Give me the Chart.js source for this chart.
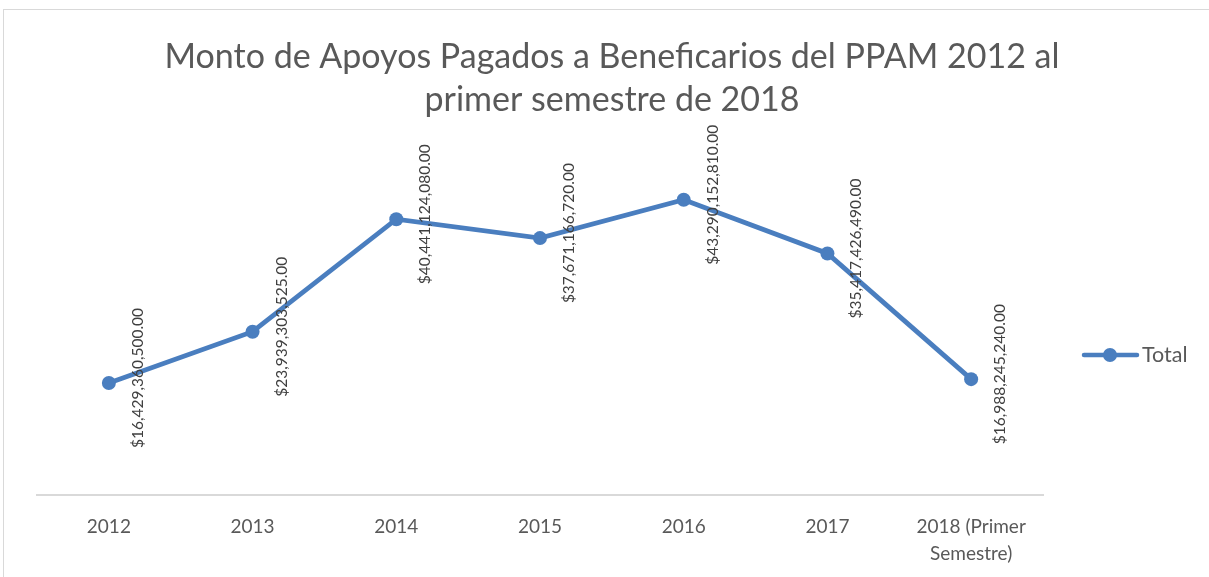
<!DOCTYPE html>
<html><head><meta charset="utf-8">
<script src="https://cdn.jsdelivr.net/npm/chart.js@4/dist/chart.umd.min.js"></script>
<style>html,body{margin:0;padding:0;background:#fff}#wrap{width:1209px;height:577px}</style>
</head><body><div id="wrap"><canvas id="c" width="1209" height="577"></canvas></div>
<script>
const categories = ['2012','2013','2014','2015','2016','2017',['2018 (Primer','Semestre)']];
const totals = [16429360500, 23939303525, 40441124080, 37671166720, 43290152810, 35417426490, 16988245240];
const seriesName = 'Total';
const titleLines = ['Monto de Apoyos Pagados a Beneficarios del PPAM 2012 al','primer semestre de 2018'];

const FONT = 'Lato, "Open Sans", sans-serif';
const BLUE = '#4a7ebf';

function money(v){
  return '$' + v.toLocaleString('en-US',{minimumFractionDigits:2,maximumFractionDigits:2});
}

const frame = {
  id:'frame',
  beforeDraw(chart){
    const ctx = chart.ctx;
    ctx.save();
    ctx.fillStyle='#fff';ctx.fillRect(0,0,chart.width,chart.height);
    ctx.strokeStyle='#d9d9d9';ctx.lineWidth=1;
    ctx.strokeRect(3.5,9.5,1400,800);
    ctx.fillStyle='#595959';ctx.font='34px '+FONT;ctx.textAlign='center';ctx.textBaseline='middle';
    ctx.fillText(titleLines[0],612,57);
    ctx.fillText(titleLines[1],612,100);
    ctx.restore();
  }
};
const labels = {
  id:'labels',
  afterDatasetsDraw(chart){
    const ctx = chart.ctx;
    const meta = chart.getDatasetMeta(0);
    ctx.save();
    ctx.font = '15.5px ' + FONT;
    ctx.fillStyle = '#404040';
    ctx.textAlign='center';ctx.textBaseline='middle';
    meta.data.forEach((pt,i)=>{
      ctx.save();
      ctx.translate(pt.x+29, pt.y-5);
      ctx.rotate(-Math.PI/2);
      ctx.fillText(money(chart.data.datasets[0].data[i]),0,0);
      ctx.restore();
    });
    ctx.restore();
  }
};
const legend = {
  id:'customLegend',
  afterDraw(chart){
    const ctx = chart.ctx;
    const y = 355;
    ctx.save();
    ctx.strokeStyle=BLUE;ctx.lineWidth=4.5;ctx.lineCap='round';
    ctx.beginPath();ctx.moveTo(1084,y);ctx.lineTo(1137,y);ctx.stroke();
    ctx.fillStyle=BLUE;ctx.beginPath();ctx.arc(1110,y,7,0,Math.PI*2);ctx.fill();
    ctx.fillStyle='#595959';ctx.font='21.5px '+FONT;ctx.textBaseline='middle';ctx.textAlign='left';
    ctx.fillText(seriesName,1142,y);
    ctx.restore();
  }
};

new Chart(document.getElementById('c'),{
  type:'line',
  data:{labels:categories,datasets:[{label:seriesName,data:totals,borderColor:BLUE,backgroundColor:BLUE,
    borderWidth:4.8,pointRadius:7,pointHoverRadius:7,pointBackgroundColor:BLUE,pointBorderWidth:0,tension:0}]},
  options:{
    responsive:false,animation:false,
    layout:{padding:{left:37,right:166,top:154,bottom:0}},
    plugins:{legend:{display:false},tooltip:{enabled:false},title:{display:false}},
    scales:{
      x:{offset:true,grid:{display:false,drawTicks:false},border:{color:'#d9d9d9',width:2},
        ticks:{color:'#595959',font:{family:FONT,size:19,lineHeight:1.4},padding:19,maxRotation:0,autoSkip:false},
        afterFit(s){s.height=82;}},
      y:{display:false,min:0,max:50000000000}
    }
  },
  plugins:[frame,labels,legend]
});
</script></body></html>
